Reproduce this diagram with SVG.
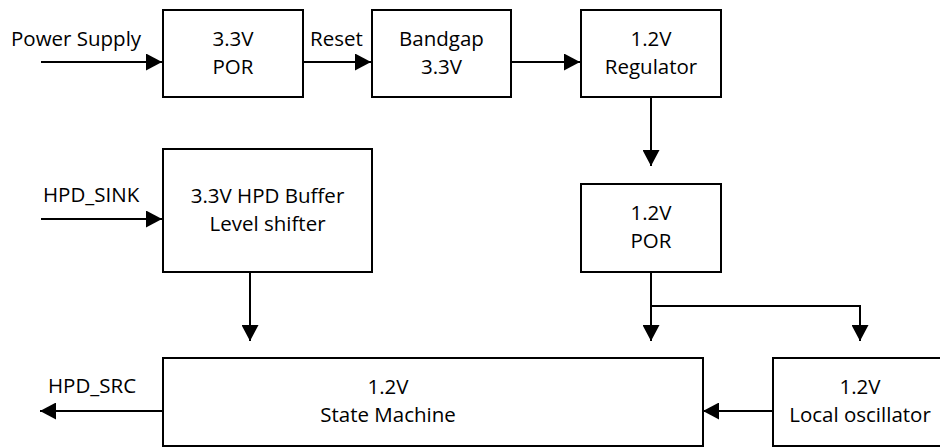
<svg xmlns="http://www.w3.org/2000/svg" width="940" height="447" viewBox="0 0 940 447">
<defs>
<style>
.box{fill:#fff;stroke:#000;stroke-width:2}
.ln{fill:none;stroke:#000;stroke-width:2}
text{font-family:"Open Sans","Liberation Sans",sans-serif;font-size:20.5px;fill:#000}
.c{text-anchor:middle}
</style>
<marker id="arr" viewBox="0 0 16 17" refX="16" refY="8.5" markerWidth="16" markerHeight="17" orient="auto" markerUnits="userSpaceOnUse"><path d="M0,0 L16,8.5 L0,17 z" fill="#000"/></marker>
</defs>
<rect width="940" height="447" fill="#fff"/>
<g id="connectors">
<path class="ln" d="M41,62 H162" marker-end="url(#arr)"/>
<path class="ln" d="M303,62 H371" marker-end="url(#arr)"/>
<path class="ln" d="M511,62 H580" marker-end="url(#arr)"/>
<path class="ln" d="M651,97 V166" marker-end="url(#arr)"/>
<path class="ln" d="M651,272 V341" marker-end="url(#arr)"/>
<path class="ln" d="M651,306 H860 V341" marker-end="url(#arr)"/>
<path class="ln" d="M41,219 H162" marker-end="url(#arr)"/>
<path class="ln" d="M250,272 V341" marker-end="url(#arr)"/>
<path class="ln" d="M773,411 H703" marker-end="url(#arr)"/>
<path class="ln" d="M163,411 H40" marker-end="url(#arr)"/>
<text x="11" y="46">Power Supply</text>
<text x="310" y="46">Reset</text>
<text x="43" y="202">HPD_SINK</text>
<text x="48" y="393">HPD_SRC</text>
</g>
<g id="por33">
<rect class="box" x="163" y="10" width="140" height="87"/>
<text class="c" x="233" y="46">3.3V</text>
<text class="c" x="233" y="74">POR</text>
</g>
<g id="bandgap">
<rect class="box" x="372" y="10" width="139" height="87"/>
<text class="c" x="441.5" y="46">Bandgap</text>
<text class="c" x="441.5" y="74">3.3V</text>
</g>
<g id="regulator">
<rect class="box" x="581" y="10" width="140" height="87"/>
<text class="c" x="651" y="46">1.2V</text>
<text class="c" x="651" y="74">Regulator</text>
</g>
<g id="por12">
<rect class="box" x="581" y="184" width="140" height="88"/>
<text class="c" x="651" y="220">1.2V</text>
<text class="c" x="651" y="248">POR</text>
</g>
<g id="hpdbuffer">
<rect class="box" x="163" y="149" width="209" height="123"/>
<text class="c" x="267.5" y="203">3.3V HPD Buffer</text>
<text class="c" x="267.5" y="231">Level shifter</text>
</g>
<g id="statemachine">
<rect class="box" x="163" y="358" width="540" height="88"/>
<text class="c" x="388" y="394">1.2V</text>
<text class="c" x="388" y="422">State Machine</text>
</g>
<g id="localosc">
<rect class="box" x="773" y="358" width="172" height="88"/>
<text class="c" x="860" y="394">1.2V</text>
<text class="c" x="860" y="422">Local oscillator</text>
</g>
</svg>
